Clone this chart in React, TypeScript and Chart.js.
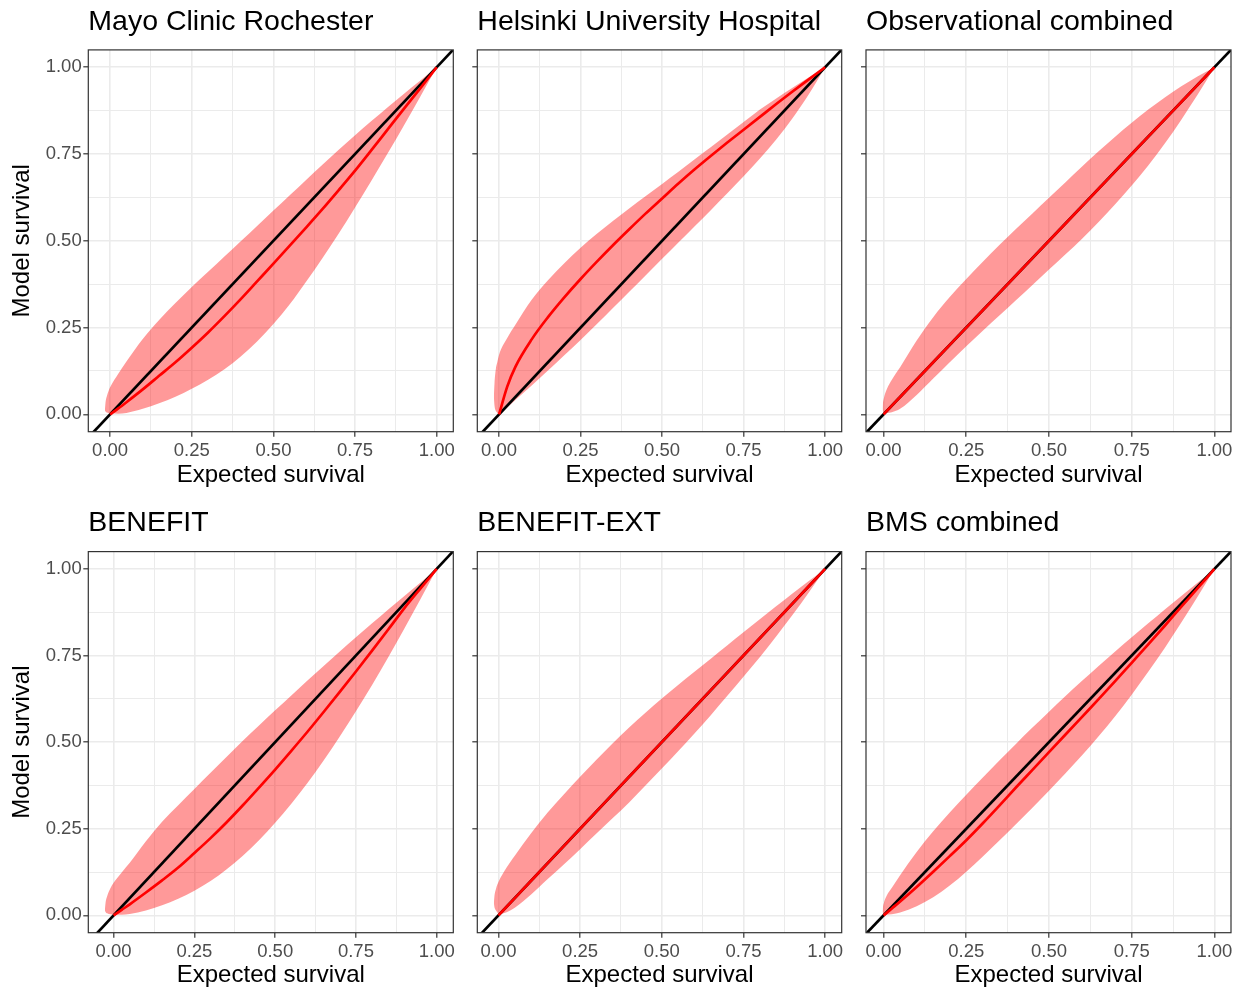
import React, { useEffect, useRef } from 'react';
import { Chart, registerables } from 'chart.js';

Chart.register(...registerables);
Chart.defaults.font.family = "'Liberation Sans', Arial, Helvetica, sans-serif";

// ---------- text ----------
const PANEL_TITLES = [
  'Mayo Clinic Rochester',
  'Helsinki University Hospital',
  'Observational combined',
  'BENEFIT',
  'BENEFIT-EXT',
  'BMS combined',
];
const X_AXIS_TITLE = 'Expected survival';
const Y_AXIS_TITLE = 'Model survival';

// ---------- ticks ----------
const GRID_VALUES = [0, 0.125, 0.25, 0.375, 0.5, 0.625, 0.75, 0.875, 1];
const MAJOR_VALUES = [0, 0.25, 0.5, 0.75, 1];
const TICK_LABELS = ['0.00', '0.25', '0.50', '0.75', '1.00'];
const Y_MIN = -0.05;
const Y_MAX = 1.05;

// ---------- data ----------
const CURVE_X = [0, 0.025, 0.05, 0.1, 0.15, 0.2, 0.25, 0.3, 0.35, 0.4, 0.45, 0.5, 0.55, 0.6, 0.65, 0.7, 0.75, 0.8, 0.85, 0.9, 0.95, 1];
const IDENTITY_LINE = [-0.2, 1.2];

// Mayo Clinic Rochester
const MAYO_FIT = [0, 0.017, 0.035, 0.072, 0.111, 0.15, 0.192, 0.236, 0.283, 0.332, 0.383, 0.434, 0.486, 0.538, 0.591, 0.646, 0.702, 0.761, 0.821, 0.881, 0.94, 1];
const MAYO_RIBBON_X = [-0.016, -0.014, -0.01, -0.005, 0, 0.025, 0.05, 0.1, 0.15, 0.2, 0.25, 0.3, 0.35, 0.4, 0.45, 0.5, 0.55, 0.6, 0.65, 0.7, 0.75, 0.8, 0.85, 0.9, 0.95, 1];
const MAYO_UPPER = [0.012, 0.035, 0.052, 0.0665, 0.078, 0.117, 0.152, 0.217, 0.272, 0.321, 0.367, 0.411, 0.455, 0.499, 0.543, 0.587, 0.631, 0.675, 0.719, 0.762, 0.804, 0.845, 0.885, 0.924, 0.962, 1];
const MAYO_LOWER = [0.012, 0.008, 0.005, 0.004, 0.003, 0.002, 0.004, 0.016, 0.032, 0.051, 0.074, 0.1, 0.13, 0.167, 0.21, 0.26, 0.317, 0.382, 0.45, 0.521, 0.596, 0.673, 0.752, 0.833, 0.916, 1];

// Helsinki University Hospital
const HUS_FIT = [0, 0.08, 0.137, 0.216, 0.28, 0.337, 0.39, 0.44, 0.488, 0.534, 0.579, 0.622, 0.665, 0.706, 0.745, 0.783, 0.82, 0.857, 0.894, 0.93, 0.965, 1];
const HUS_RIBBON_X = [-0.016, -0.014, -0.01, -0.005, 0, 0.025, 0.05, 0.1, 0.15, 0.2, 0.25, 0.3, 0.35, 0.4, 0.45, 0.5, 0.55, 0.6, 0.65, 0.7, 0.75, 0.8, 0.85, 0.9, 0.95, 1];
const HUS_UPPER = [0.05, 0.09, 0.13, 0.152, 0.172, 0.22, 0.258, 0.33, 0.386, 0.435, 0.48, 0.52, 0.558, 0.594, 0.629, 0.664, 0.699, 0.735, 0.77, 0.806, 0.842, 0.878, 0.91, 0.941, 0.971, 1];
const HUS_LOWER = [0.05, 0.025, 0.01, 0.004, 0, 0.02, 0.041, 0.083, 0.126, 0.17, 0.214, 0.26, 0.307, 0.354, 0.401, 0.448, 0.495, 0.542, 0.589, 0.637, 0.686, 0.737, 0.792, 0.853, 0.922, 1];

// Observational combined
const OBS_FIT = [0, 0.025, 0.05, 0.1, 0.15, 0.2, 0.25, 0.3, 0.35, 0.4, 0.45, 0.5, 0.55, 0.6, 0.65, 0.7, 0.75, 0.8, 0.85, 0.9, 0.95, 1];
const OBS_RIBBON_X = [-0.003, -0.002, 0, 0.01, 0.025, 0.05, 0.1, 0.15, 0.2, 0.25, 0.3, 0.35, 0.4, 0.45, 0.5, 0.55, 0.6, 0.65, 0.7, 0.75, 0.8, 0.85, 0.9, 0.95, 1];
const OBS_UPPER = [0.015, 0.031, 0.043, 0.073, 0.1, 0.136, 0.213, 0.28, 0.338, 0.39, 0.44, 0.488, 0.534, 0.579, 0.624, 0.669, 0.714, 0.758, 0.8, 0.84, 0.878, 0.913, 0.945, 0.974, 1];
const OBS_LOWER = [0.015, 0.01, 0.005, 0.004, 0.006, 0.016, 0.056, 0.103, 0.15, 0.196, 0.241, 0.285, 0.329, 0.373, 0.417, 0.461, 0.506, 0.554, 0.605, 0.659, 0.717, 0.78, 0.849, 0.922, 1];

// BENEFIT
const BEN_FIT = [0, 0.016, 0.032, 0.066, 0.101, 0.138, 0.18, 0.223, 0.269, 0.318, 0.369, 0.421, 0.475, 0.53, 0.587, 0.645, 0.704, 0.764, 0.825, 0.887, 0.944, 1];
const BEN_RIBBON_X = [-0.027, -0.025, -0.02, -0.01, 0, 0.025, 0.05, 0.1, 0.15, 0.2, 0.25, 0.3, 0.35, 0.4, 0.45, 0.5, 0.55, 0.6, 0.65, 0.7, 0.75, 0.8, 0.85, 0.9, 0.95, 1];
const BEN_UPPER = [0.015, 0.036, 0.055, 0.078, 0.094, 0.124, 0.152, 0.214, 0.27, 0.318, 0.365, 0.412, 0.458, 0.504, 0.548, 0.592, 0.635, 0.678, 0.72, 0.762, 0.803, 0.843, 0.883, 0.922, 0.961, 1];
const BEN_LOWER = [0.015, 0.01, 0.006, 0.003, 0.002, 0.002, 0.004, 0.014, 0.029, 0.048, 0.071, 0.099, 0.133, 0.172, 0.217, 0.267, 0.322, 0.382, 0.447, 0.516, 0.589, 0.665, 0.745, 0.828, 0.913, 1];

// BENEFIT-EXT
const BEXT_FIT = [0, 0.025, 0.05, 0.1, 0.15, 0.2, 0.25, 0.3, 0.35, 0.4, 0.45, 0.5, 0.55, 0.6, 0.65, 0.7, 0.75, 0.8, 0.85, 0.9, 0.95, 1];
const BEXT_RIBBON_X = [-0.014, -0.012, -0.008, -0.003, 0, 0.025, 0.05, 0.1, 0.15, 0.2, 0.25, 0.3, 0.35, 0.4, 0.45, 0.5, 0.55, 0.6, 0.65, 0.7, 0.75, 0.8, 0.85, 0.9, 0.95, 1];
const BEXT_UPPER = [0.035, 0.058, 0.075, 0.0895, 0.0965, 0.138, 0.172, 0.237, 0.296, 0.349, 0.4, 0.449, 0.497, 0.542, 0.585, 0.626, 0.665, 0.703, 0.741, 0.779, 0.817, 0.855, 0.892, 0.929, 0.965, 1];
const BEXT_LOWER = [0.035, 0.023, 0.015, 0.008, 0.004, 0.009, 0.022, 0.06, 0.104, 0.147, 0.191, 0.236, 0.281, 0.326, 0.375, 0.424, 0.474, 0.525, 0.578, 0.633, 0.689, 0.745, 0.805, 0.867, 0.932, 1];

// BMS combined
const BMS_FIT = [0, 0.02, 0.04, 0.082, 0.126, 0.171, 0.217, 0.266, 0.317, 0.369, 0.42, 0.471, 0.522, 0.573, 0.624, 0.676, 0.729, 0.782, 0.836, 0.891, 0.945, 1];
const BMS_RIBBON_X = [-0.003, -0.002, 0, 0.01, 0.025, 0.05, 0.1, 0.15, 0.2, 0.25, 0.3, 0.35, 0.4, 0.45, 0.5, 0.55, 0.6, 0.65, 0.7, 0.75, 0.8, 0.85, 0.9, 0.95, 1];
const BMS_UPPER = [0.01, 0.023, 0.033, 0.058, 0.08, 0.116, 0.183, 0.243, 0.297, 0.348, 0.398, 0.447, 0.495, 0.542, 0.588, 0.633, 0.677, 0.72, 0.762, 0.803, 0.843, 0.883, 0.922, 0.961, 1];
const BMS_LOWER = [0.01, 0.006, 0.003, 0.002, 0.003, 0.008, 0.026, 0.052, 0.086, 0.126, 0.17, 0.216, 0.263, 0.311, 0.36, 0.41, 0.462, 0.517, 0.575, 0.637, 0.703, 0.772, 0.845, 0.921, 1];

type PanelData = { title: string; fit: number[]; ribbonX: number[]; upper: number[]; lower: number[] };

const PANELS: PanelData[] = [
  { title: PANEL_TITLES[0], fit: MAYO_FIT, ribbonX: MAYO_RIBBON_X, upper: MAYO_UPPER, lower: MAYO_LOWER },
  { title: PANEL_TITLES[1], fit: HUS_FIT, ribbonX: HUS_RIBBON_X, upper: HUS_UPPER, lower: HUS_LOWER },
  { title: PANEL_TITLES[2], fit: OBS_FIT, ribbonX: OBS_RIBBON_X, upper: OBS_UPPER, lower: OBS_LOWER },
  { title: PANEL_TITLES[3], fit: BEN_FIT, ribbonX: BEN_RIBBON_X, upper: BEN_UPPER, lower: BEN_LOWER },
  { title: PANEL_TITLES[4], fit: BEXT_FIT, ribbonX: BEXT_RIBBON_X, upper: BEXT_UPPER, lower: BEXT_LOWER },
  { title: PANEL_TITLES[5], fit: BMS_FIT, ribbonX: BMS_RIBBON_X, upper: BMS_UPPER, lower: BMS_LOWER },
];

// ---------- layout ----------
const COL_LEFT = [0, 460, 850];
const COL_WIDTH = [460, 390, 392];
const Y_AXIS_WIDTH = [88.3, 17.3, 16];
const PAD_RIGHT = [6.7, 8.3, 11];
const ROW_TOP = [0, 500];
const ROW_HEIGHT = [500, 491];
const X_AXIS_HEIGHT = [68.3, 58.3];
const TITLE_PAD = [
  { top: 5.2, bottom: 10.5 },
  { top: 6.5, bottom: 10.9 },
];
const X_TITLE_PAD_BOTTOM = [10, 1];

const RED = '#ff0000';
const RIBBON = 'rgba(255, 0, 0, 0.4)';
const TEXT_GREY = '#4d4d4d';
const TICK_MARK = '#333333';

const isMajor = (v: number) => MAJOR_VALUES.some((m) => Math.abs(m - v) < 1e-9);
const labelFor = (v: number) => {
  const i = MAJOR_VALUES.findIndex((m) => Math.abs(m - v) < 1e-9);
  return i >= 0 ? TICK_LABELS[i] : '';
};

const panelBorder = {
  id: 'panelBorder',
  afterDatasetsDraw(chart: any) {
    const { ctx, chartArea: a } = chart;
    ctx.save();
    ctx.strokeStyle = '#333333';
    ctx.lineWidth = 1.2;
    ctx.strokeRect(a.left, a.top, a.right - a.left, a.bottom - a.top);
    ctx.restore();
  },
};

function gridOptions() {
  return {
    color: '#ebebeb',
    lineWidth: (c: any) => (c.tick && isMajor(c.tick.value) ? 1.6 : 1.0),
    tickColor: (c: any) => (c.tick && isMajor(c.tick.value) ? TICK_MARK : 'rgba(0,0,0,0)'),
    tickWidth: 1.2,
    tickLength: 5,
    drawTicks: true,
    drawOnChartArea: true,
  };
}

function makeConfig(p: PanelData, col: number, row: number) {
  const leftmost = Math.min(...p.ribbonX);
  const span = 1 - leftmost;
  const xMin = leftmost - 0.05 * span;
  const xMax = 1 + 0.05 * span;
  return {
    type: 'line',
    data: {
      datasets: [
        {
          label: 'fit',
          data: CURVE_X.map((x, i) => ({ x, y: p.fit[i] })),
          borderColor: RED,
          borderWidth: 2.7,
          pointRadius: 0,
          fill: false,
          cubicInterpolationMode: 'monotone',
          clip: 0,
        },
        {
          label: 'identity',
          data: IDENTITY_LINE.map((v) => ({ x: v, y: v })),
          borderColor: '#000000',
          borderWidth: 2.7,
          pointRadius: 0,
          fill: false,
          clip: 0,
        },
        {
          label: 'upper',
          data: p.ribbonX.map((x, i) => ({ x, y: p.upper[i] })),
          borderColor: 'rgba(0,0,0,0)',
          borderWidth: 0,
          backgroundColor: RIBBON,
          pointRadius: 0,
          fill: '+1',
          cubicInterpolationMode: 'monotone',
        },
        {
          label: 'lower',
          data: p.ribbonX.map((x, i) => ({ x, y: p.lower[i] })),
          borderColor: 'rgba(0,0,0,0)',
          borderWidth: 0,
          pointRadius: 0,
          fill: false,
          cubicInterpolationMode: 'monotone',
        },
      ],
    },
    options: {
      responsive: false,
      animation: false,
      events: [],
      layout: { padding: { left: 0, right: PAD_RIGHT[col], top: 0, bottom: 0 } },
      plugins: {
        legend: { display: false },
        tooltip: { enabled: false },
        title: {
          display: true,
          text: p.title,
          align: 'start',
          fullSize: false,
          color: '#000000',
          font: { size: 28.5, weight: 'normal' },
          padding: TITLE_PAD[row],
        },
      },
      scales: {
        x: {
          type: 'linear',
          min: xMin,
          max: xMax,
          afterBuildTicks: (s: any) => {
            s.ticks = GRID_VALUES.map((v) => ({ value: v }));
          },
          afterFit: (s: any) => {
            s.height = X_AXIS_HEIGHT[row];
          },
          grid: gridOptions(),
          border: { display: false },
          ticks: {
            autoSkip: false,
            maxRotation: 0,
            minRotation: 0,
            padding: 3,
            color: TEXT_GREY,
            font: { size: 18.5 },
            callback: (v: any) => labelFor(Number(v)),
          },
          title: {
            display: true,
            text: X_AXIS_TITLE,
            color: '#000000',
            font: { size: 24 },
            padding: { top: 0, bottom: X_TITLE_PAD_BOTTOM[row] },
          },
        },
        y: {
          type: 'linear',
          min: Y_MIN,
          max: Y_MAX,
          afterBuildTicks: (s: any) => {
            s.ticks = GRID_VALUES.map((v) => ({ value: v }));
          },
          afterFit: (s: any) => {
            s.width = Y_AXIS_WIDTH[col];
          },
          grid: gridOptions(),
          border: { display: false },
          ticks: {
            autoSkip: false,
            padding: 1.6,
            color: TEXT_GREY,
            font: { size: 18.5 },
            callback: (v: any) => (col === 0 ? labelFor(Number(v)) : ''),
          },
          title: {
            display: col === 0,
            text: Y_AXIS_TITLE,
            color: '#000000',
            font: { size: 24 },
            padding: { top: 8, bottom: 0 },
          },
        },
      },
    },
    plugins: [panelBorder],
  };
}

export default function App() {
  const refs = useRef<(HTMLCanvasElement | null)[]>([]);

  useEffect(() => {
    const charts: Chart[] = [];
    PANELS.forEach((p, i) => {
      const canvas = refs.current[i];
      if (!canvas) return;
      const col = i % 3;
      const row = Math.floor(i / 3);
      charts.push(new Chart(canvas, makeConfig(p, col, row) as any));
    });
    return () => charts.forEach((c) => c.destroy());
  }, []);

  return (
    <div style={{ position: 'absolute', left: 0, top: 0, width: 1242, height: 991, background: '#ffffff', overflow: 'hidden' }}>
      {PANELS.map((p, i) => {
        const col = i % 3;
        const row = Math.floor(i / 3);
        return (
          <canvas
            key={p.title}
            ref={(el) => {
              refs.current[i] = el;
            }}
            width={COL_WIDTH[col]}
            height={ROW_HEIGHT[row]}
            style={{
              position: 'absolute',
              left: COL_LEFT[col],
              top: ROW_TOP[row],
              width: COL_WIDTH[col],
              height: ROW_HEIGHT[row],
            }}
          />
        );
      })}
    </div>
  );
}
